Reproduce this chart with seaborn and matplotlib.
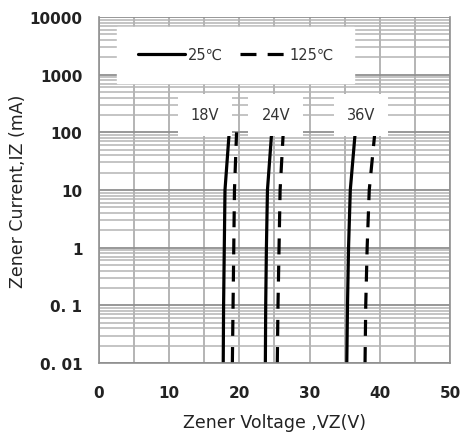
import numpy as np
import pandas as pd
import matplotlib
matplotlib.use('Agg')
import matplotlib.pyplot as plt
import matplotlib.ticker as mticker
import seaborn as sns

# currents (mA) and voltages
current = [0.01, 0.1, 1, 10, 100]
v18_25 = [17.7, 17.75, 17.85, 17.95, 18.55]
v18_125 = [19.0, 19.1, 19.2, 19.3, 19.6]
v24_25 = [23.7, 23.75, 23.85, 24.0, 24.6]
v24_125 = [25.4, 25.5, 25.65, 25.8, 26.25]
v36_25 = [35.3, 35.4, 35.55, 35.8, 36.5]
v36_125 = [37.9, 38.0, 38.2, 38.5, 39.3]

ytick_vals = [0.01, 0.1, 1, 10, 100, 1000, 10000]
ytick_labels = ['0. 01', '0. 1', '1', '10', '100', '1000', '10000']
xtick_vals = [0, 10, 20, 30, 40, 50]
zener_labels = ['18V', '24V', '36V']
label_x = [15.1, 25.2, 37.3]

rows = []
for name, vals, temp in [('18V', v18_25, '25℃'), ('18V', v18_125, '125℃'),
                         ('24V', v24_25, '25℃'), ('24V', v24_125, '125℃'),
                         ('36V', v36_25, '25℃'), ('36V', v36_125, '125℃')]:
    for v, i in zip(vals, current):
        rows.append({'part': name, 'temp': temp, 'vz': v, 'iz': i})
df = pd.DataFrame(rows)

sns.set_style('white')
plt.rcParams['font.family'] = ['DejaVu Sans']

fig = plt.figure(figsize=(4.7, 4.39), dpi=100)
ax = fig.add_axes([0.2106, 0.1708, 0.7468, 0.7882])

for (part, temp), g in df.groupby(['part', 'temp'], sort=False):
    sns.lineplot(data=g, x='vz', y='iz', ax=ax, color='black', lw=2.3,
                 sort=False, estimator=None,
                 label=temp if part == '18V' else None)
    if temp == '125℃':
        ax.lines[-1].set_dashes((5, 3.5))

ax.set_yscale('log')
ax.set_xlim(0, 50)
ax.set_ylim(0.01, 10000)
ax.yaxis.set_major_locator(mticker.FixedLocator(ytick_vals))
ax.yaxis.set_major_formatter(mticker.FixedFormatter(ytick_labels))
ax.yaxis.set_minor_locator(mticker.LogLocator(base=10, subs=np.arange(2, 10), numticks=20))
ax.yaxis.set_minor_formatter(mticker.NullFormatter())
ax.set_xticks(xtick_vals)
ax.xaxis.set_minor_locator(mticker.MultipleLocator(5))

ax.grid(True, which='both', axis='x', color='#a8a8a8', lw=1.2)
ax.grid(True, which='minor', axis='y', color='#b4b4b4', lw=1.1)
ax.grid(True, which='major', axis='y', color='#909090', lw=1.3)
ax.set_axisbelow(True)

ax.tick_params(axis='y', which='major', length=6, color='#808080', direction='out',
               labelsize=11, labelcolor='#222222', pad=6)
ax.tick_params(axis='y', which='minor', length=0)
ax.tick_params(axis='x', which='both', length=0, labelsize=11, labelcolor='#222222', pad=16)
for lab in ax.get_xticklabels() + ax.get_yticklabels():
    lab.set_fontweight('bold')

ax.spines['top'].set_visible(False)
for s in ['left', 'bottom', 'right']:
    ax.spines[s].set_color('#909090')
    ax.spines[s].set_linewidth(1.2)

ax.set_xlabel('Zener Voltage ,VZ(V)', fontsize=12.5, color='#222222', labelpad=9)
ax.set_ylabel('Zener Current,IZ (mA)', fontsize=12.5, color='#222222', labelpad=2)

for t, x in zip(zener_labels, label_x):
    ax.text(x, 200, t, ha='center', va='center', fontsize=10.5, color='#333333',
            bbox=dict(facecolor='white', edgecolor='none', boxstyle='square,pad=0.9'))

leg = ax.legend(loc='upper center', bbox_to_anchor=(0.39, 0.972), ncol=2, frameon=True,
                fancybox=False, edgecolor='white', facecolor='white', framealpha=1,
                fontsize=10.5, handlelength=3.2, columnspacing=1.2, borderpad=1.4,
                handletextpad=0.2, borderaxespad=0)
for t in leg.get_texts():
    t.set_color('#333333')

fig.savefig('out.png', dpi=100)
